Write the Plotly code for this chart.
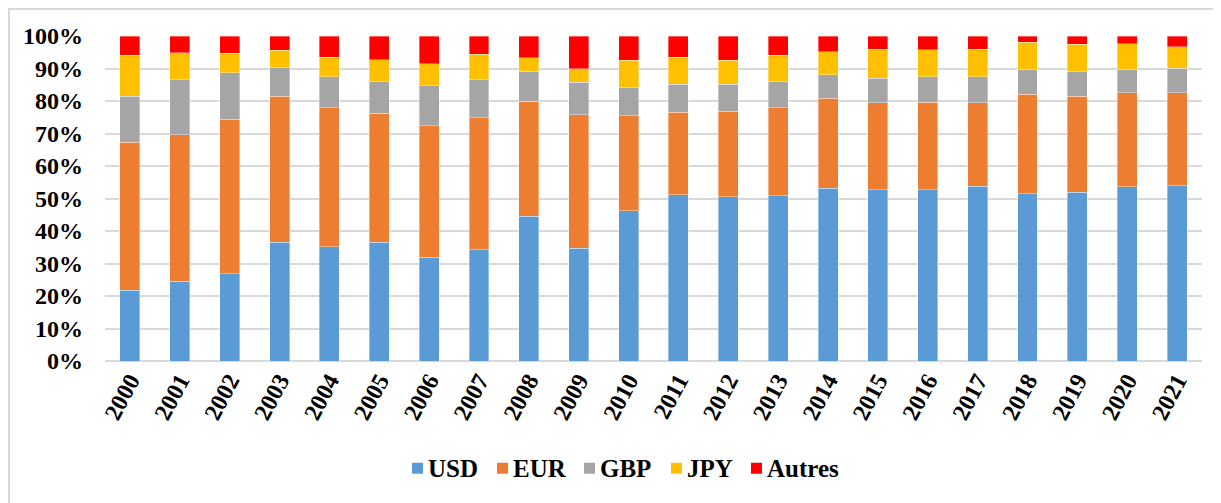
import plotly.graph_objects as go

# Parts de marché par devise (en %)
years = [str(y) for y in range(2000, 2022)]
usd = [21.7, 24.5, 26.9, 36.5, 35.2, 36.5, 31.9, 34.2, 44.5, 34.7, 46.3,
       51.2, 50.6, 50.9, 53.1, 52.7, 52.7, 53.8, 51.4, 52.0, 53.6, 54.0]
eur = [45.6, 45.1, 47.5, 44.9, 42.7, 39.8, 40.5, 40.6, 35.5, 41.1, 29.2,
       25.4, 26.3, 27.1, 27.8, 26.7, 26.9, 25.6, 30.7, 29.5, 28.9, 28.5]
gbp = [14.2, 16.9, 14.3, 9.0, 9.5, 9.7, 12.3, 11.8, 9.2, 9.9, 8.8,
       8.5, 8.3, 8.0, 7.2, 7.6, 7.8, 8.0, 7.6, 7.6, 7.3, 7.6]
jpy = [12.6, 8.4, 6.0, 5.2, 6.1, 6.7, 6.8, 7.8, 4.1, 4.3, 8.3,
       8.3, 7.4, 8.1, 7.0, 8.9, 8.3, 8.5, 8.4, 8.4, 7.8, 6.6]
autres = [5.9, 5.1, 5.3, 4.4, 6.5, 7.3, 8.5, 5.6, 6.7, 10.0, 7.4,
          6.6, 7.4, 5.9, 4.9, 4.1, 4.3, 4.1, 1.9, 2.5, 2.4, 3.3]

series = [
    ("USD", usd, "#5B9BD5"),
    ("EUR", eur, "#ED7D31"),
    ("GBP", gbp, "#A5A5A5"),
    ("JPY", jpy, "#FFC000"),
    ("Autres", autres, "#FF0000"),
]

font_family = "'Liberation Serif', 'Times New Roman', serif"

# page 1221x503, le body html ajoute 8px de marge
W, H = 1213, 495
L, T, R, B = 97, 28, 19, 142
plot_w = W - L - R
plot_h = H - T - B

fig = go.Figure()
for name, vals, color in series:
    fig.add_trace(go.Bar(
        x=years,
        y=vals,
        name=name,
        marker=dict(color=color, line=dict(width=0.6, color="rgba(255,255,255,0.6)")),
        showlegend=False,
    ))

# légende manuelle (carré + texte serrés comme dans Excel)
legend_x = [412, 497, 584, 671, 751]   # bord gauche des carrés, en px de page
legend_y = -0.33
shapes = []
annotations = []
for (name, _, color), px in zip(series, legend_x):
    x0 = (px - 8 - L) / plot_w
    x1 = (px - 8 - L + 11) / plot_w
    dy = 5.5 / plot_h
    shapes.append(dict(
        type="rect", xref="paper", yref="paper",
        x0=x0, x1=x1, y0=legend_y - dy, y1=legend_y + dy,
        fillcolor=color, line=dict(width=0),
    ))
    annotations.append(dict(
        text="<b>" + name + "</b>", xref="paper", yref="paper",
        x=(px - 8 - L + 14) / plot_w, y=legend_y,
        xanchor="left", yanchor="middle", showarrow=False,
        font=dict(size=25, family=font_family, color="black"),
    ))

# cadre gris clair du graphique
shapes.append(dict(
    type="rect", xref="paper", yref="paper",
    x0=-(L - 1) / plot_w, x1=1.05, y0=-0.5, y1=1 + (T - 1) / plot_h,
    line=dict(color="#d9d9d9", width=2),
    fillcolor="rgba(0,0,0,0)",
    layer="below",
))

fig.update_layout(
    barmode="stack",
    barnorm="percent",
    bargap=0.6,
    width=W,
    height=H,
    margin=dict(l=L, r=R, t=T, b=B),
    plot_bgcolor="white",
    paper_bgcolor="white",
    font=dict(family=font_family, color="black"),
    xaxis=dict(
        type="category",
        tickangle=-62,
        tickfont=dict(size=24, family=font_family, weight="bold"),
        showgrid=False,
        showline=False,
        ticks="",
    ),
    yaxis=dict(
        range=[0, 100],
        dtick=10,
        ticksuffix="%",
        tickfont=dict(size=24, family=font_family, weight="bold"),
        showgrid=True,
        gridcolor="#d9d9d9",
        gridwidth=1.5,
        zeroline=True,
        zerolinecolor="#d9d9d9",
        zerolinewidth=1.5,
        ticklabelstandoff=21,
    ),
    shapes=shapes,
    annotations=annotations,
)

fig.write_html("out.html")
